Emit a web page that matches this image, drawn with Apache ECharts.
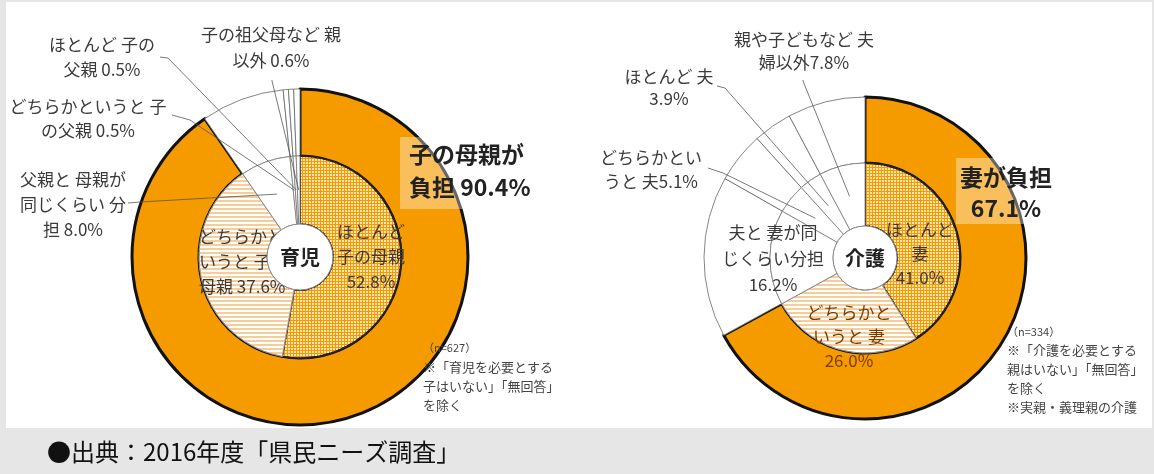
<!DOCTYPE html>
<html><head><meta charset="utf-8">
<script src="https://cdn.jsdelivr.net/npm/echarts@6/dist/echarts.min.js"></script>
<style>html,body{margin:0;padding:0;background:#E6E6E6;}#c{width:1154px;height:474px;}</style>
</head><body><div id="c"></div>
<script>
// ---------------- data ----------------
const childNames = ['ほとんど子の母親','どちらかというと子の母親','父親と母親が同じくらい分担','どちらかというと子の父親','ほとんど子の父親','子の祖父母など親以外'];
const childInner = [52.8, 37.6, 8.0, 0.5, 0.5, 0.6];
const childOuterNames = ['子の母親が負担','父親と母親が同じくらい分担','どちらかというと子の父親','ほとんど子の父親','子の祖父母など親以外'];
const childOuter = [90.4, 8.0, 0.5, 0.5, 0.6];
const childInnerLabels = ['ほとんど\n子の母親\n52.8%','どちらかと\nいうと 子の\n母親 37.6%','父親と 母親が\n同じくらい 分\n担 8.0%','どちらかというと 子\nの父親 0.5%','ほとんど 子の\n父親 0.5%','子の祖父母など 親\n以外 0.6%'];
const childOuterLabel = '子の母親が\n負担 90.4%';

const careNames = ['ほとんど妻','どちらかというと妻','夫と妻が同じくらい分担','どちらかというと夫','ほとんど夫','親や子どもなど夫婦以外'];
const careInner = [41.0, 26.0, 16.2, 5.1, 3.9, 7.8];
const careOuterNames = ['妻が負担','夫と妻が同じくらい分担','どちらかというと夫','ほとんど夫','親や子どもなど夫婦以外'];
const careOuter = [67.1, 16.2, 5.1, 3.9, 7.8];
const careInnerLabels = ['ほとんど\n妻\n41.0%','どちらかと\nいうと 妻\n26.0%','夫と 妻が同\nじくらい分担\n16.2%','どちらかとい\nうと 夫5.1%','ほとんど 夫\n3.9%','親や子どもなど 夫\n婦以外7.8%'];
const careOuterLabel = '妻が負担\n67.1%';

const centerLabels = ['育児','介護'];
const noteChild = ['（n=627）','※「育児を必要とする','子はいない」「無回答」','を除く'];
const noteCare = ['（n=334）','※「介護を必要とする','親はいない」「無回答」','を除く','※実親・義理親の介護'];
const sourceText = '●出典：2016年度「県民ニーズ調査」';

// ---------------- styles / placement ----------------
const FONT = '"Noto Sans CJK JP", "Noto Sans", sans-serif';
const TEXT = '#3a3a3a';
const ORANGE = '#F59B00';
const dotsDecal = {symbol:'rect', symbolSize:1, color:'rgba(255,232,190,0.95)', dashArrayX:[2,1], dashArrayY:[2,1]};
const stripeDecal = {symbol:'rect', symbolSize:1, color:'#F8CC96', dashArrayX:[1,0], dashArrayY:[1.3,2]};
const LABEL_SIZE = 17;

const childPlace = [
  {x:371, y:219, align:'center', lh:25, inside:true},
  {x:199, y:224, align:'left', lh:25, inside:true},
  {x:73, y:167, align:'center', lh:25, from:[128,203], bend:[140,202]},
  {x:88, y:95, align:'center', lh:24, from:[172,115], bend:[190,120]},
  {x:102, y:32, align:'center', lh:25, from:[160,57], bend:[168,58]},
  {x:271, y:22, align:'center', lh:26, from:[272,80], bend:[272,81]}
];
const carePlace = [
  {x:920, y:218, align:'center', lh:24, inside:true},
  {x:849, y:301, align:'center', lh:24, inside:true, color:'#7A3D00'},
  {x:773, y:220, align:'center', lh:26, inside:true},
  {x:651, y:146, align:'center', lh:24, from:[708,168], bend:[723,173]},
  {x:669, y:66, align:'center', lh:22, from:[717,86], bend:[725,88]},
  {x:804, y:28, align:'center', lh:23, from:[803,80], bend:[803,81]}
];

function buildPies(cfg) {
  const total = cfg.inner.reduce((a, b) => a + b, 0);
  const rLine = (cfg.rHole + cfg.rMid) / 2;
  function midPoint(i) {
    let c = 0;
    for (let k = 0; k < i; k++) c += cfg.inner[k];
    const a = (c + cfg.inner[i] / 2) / total * 2 * Math.PI;
    return [cfg.cx + rLine * Math.sin(a), cfg.cy - rLine * Math.cos(a)];
  }
  function innerStyle(i) {
    if (i === 0) return {color: ORANGE, decal: dotsDecal, borderColor: '#222', borderWidth: 1.6};
    if (i === 1) return {color: '#FFFFFF', decal: stripeDecal, borderColor: '#888', borderWidth: 0.8};
    return {color: '#FFFFFF', borderColor: '#777', borderWidth: 0.8};
  }
  function labelOpt(i) {
    return {show: true, position: cfg.place[i].inside ? 'inside' : 'outside',
      formatter: cfg.innerLabels[i], lineHeight: cfg.place[i].lh, align: cfg.place[i].align,
      color: cfg.place[i].color || TEXT, fontSize: LABEL_SIZE, fontFamily: FONT};
  }
  function layout(p) {
    const pl = cfg.place[p.dataIndex];
    const res = {x: pl.x, y: pl.y, align: pl.align, verticalAlign: 'top', hideOverlap: false};
    if (pl.from) res.labelLinePoints = [midPoint(p.dataIndex), pl.bend, pl.from];
    return res;
  }
  const outer = {
    type: 'pie', z: 2, center: [cfg.cx, cfg.cy], radius: [cfg.rMid, cfg.rOut],
    startAngle: 90, clockwise: true, avoidLabelOverlap: false, silent: true, animation: false,
    labelLine: {show: false},
    data: cfg.outer.map((v, i) => ({
      name: cfg.outerNames[i], value: v,
      itemStyle: i === 0 ? {color: ORANGE, borderColor: '#111', borderWidth: 3} : {color: '#FFFFFF', borderColor: '#666', borderWidth: 0.8},
      label: i === 0 ? {show: true, position: 'inside', formatter: cfg.outerLabel, fontSize: 23, fontWeight: 'bold',
        color: '#222', fontFamily: FONT, lineHeight: cfg.boxLh, align: cfg.box.align,
        backgroundColor: 'rgba(255,255,255,0.36)', padding: cfg.box.padding} : {show: false}
    })),
    labelLayout: function (p) {
      if (p.dataIndex !== 0) return {};
      return {x: cfg.box.x, y: cfg.box.y, align: cfg.box.align, verticalAlign: 'top'};
    }
  };
  // inner ring: fills + the labels that sit inside the ring
  const inner = {
    type: 'pie', z: 3, center: [cfg.cx, cfg.cy], radius: [cfg.rHole, cfg.rMid],
    startAngle: 90, clockwise: true, avoidLabelOverlap: false, silent: true, animation: false,
    labelLine: {show: false},
    data: cfg.inner.map((v, i) => ({
      name: cfg.innerNames[i], value: v, itemStyle: innerStyle(i),
      label: cfg.place[i].inside ? labelOpt(i) : {show: false}
    })),
    labelLayout: layout
  };
  // same inner values, transparent: carries the call-out labels and leader lines on top
  const callouts = {
    type: 'pie', z: 5, center: [cfg.cx, cfg.cy], radius: [cfg.rHole, cfg.rMid],
    startAngle: 90, clockwise: true, avoidLabelOverlap: false, silent: true, animation: false,
    labelLine: {show: true, lineStyle: {color: '#555', width: 0.8}},
    itemStyle: {color: 'rgba(0,0,0,0)', borderWidth: 0},
    data: cfg.inner.map((v, i) => ({
      name: cfg.innerNames[i], value: v,
      label: cfg.place[i].inside ? {show: false} : labelOpt(i),
      labelLine: {show: !cfg.place[i].inside}
    })),
    labelLayout: layout
  };
  const hole = {
    type: 'pie', z: 4, center: [cfg.cx, cfg.cy], radius: [0, cfg.rHole], silent: true, animation: false,
    data: [{value: 1, name: cfg.center, itemStyle: {color: '#FFFFFF', borderColor: '#888', borderWidth: 1}}],
    label: {show: true, position: 'center', formatter: cfg.center, fontSize: 20, fontWeight: 'bold', color: '#222', fontFamily: FONT},
    labelLine: {show: false}
  };
  return [outer, inner, hole, callouts];
}

const series = [].concat(
  buildPies({cx: 300, cy: 257, rHole: 33, rMid: 101, rOut: 168,
    inner: childInner, innerNames: childNames, innerLabels: childInnerLabels, place: childPlace,
    outer: childOuter, outerNames: childOuterNames, outerLabel: childOuterLabel,
    boxLh: 33, box: {x: 400, y: 137, align: 'left', padding: [1, 8, 5, 9]}, center: centerLabels[0]}),
  buildPies({cx: 865, cy: 258, rHole: 32, rMid: 95, rOut: 161,
    inner: careInner, innerNames: careNames, innerLabels: careInnerLabels, place: carePlace,
    outer: careOuter, outerNames: careOuterNames, outerLabel: careOuterLabel,
    boxLh: 31, box: {x: 1006, y: 158, align: 'center', padding: [4, 4, 0, 4]}, center: centerLabels[1]})
);

const graphics = [
  {type: 'rect', z: -10, shape: {x: 6, y: 2, width: 1146, height: 426}, style: {fill: '#FFFFFF'}}
];
noteChild.forEach((t, i) => graphics.push({type: 'text', z: 100, x: 423, y: [348, 367, 386, 405][i],
  style: {text: t, font: (i === 0 ? '11px ' : '13px ') + FONT, fill: '#444', verticalAlign: 'middle'}}));
noteCare.forEach((t, i) => graphics.push({type: 'text', z: 100, x: 1007, y: [332, 350, 369, 388, 407][i],
  style: {text: t, font: (i === 0 ? '11px ' : '13px ') + FONT, fill: '#444', verticalAlign: 'middle'}}));
graphics.push({type: 'text', x: 47, y: 452, style: {text: sourceText, font: '24px "Noto Sans CJK JP", serif', fill: '#111', verticalAlign: 'middle'}});

const chart = echarts.init(document.getElementById('c'), null, {renderer: 'canvas'});
chart.setOption({
  backgroundColor: '#E6E6E6',
  animation: false,
  graphic: {elements: graphics},
  series: series
});
</script></body></html>
